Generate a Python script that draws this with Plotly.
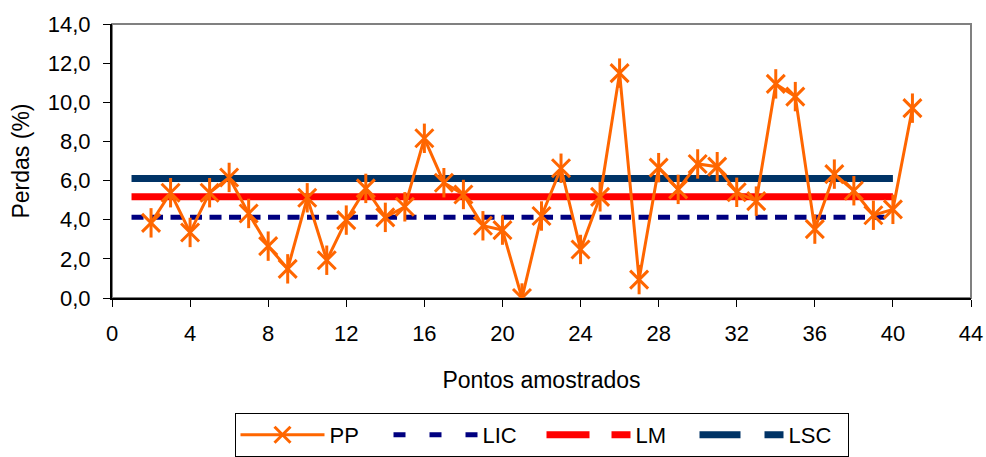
import plotly.graph_objects as go

# Sampled points and measured losses (%)
pontos = list(range(2, 42))
perdas = [3.84, 5.38, 3.35, 5.38, 6.16, 4.32, 2.65, 1.49, 5.12, 1.93,
          3.98, 5.60, 4.12, 4.66, 8.16, 5.89, 5.29, 3.69, 3.47, 0.00,
          4.19, 6.63, 2.48, 5.17, 11.49, 0.94, 6.66, 5.55, 6.85, 6.71,
          5.40, 4.95, 10.94, 10.29, 3.52, 6.33, 5.48, 4.23, 4.53, 9.70]

# Control limits, drawn over points 1..40
limite_x = [1, 40]
lic = 4.13
lm = 5.17
lsc = 6.11

x_ticks = list(range(0, 45, 4))
y_ticks = [0, 2, 4, 6, 8, 10, 12, 14]

FONT = "Liberation Sans, Arial, sans-serif"
ORANGE = "#FF6600"
NAVY = "#000080"
RED = "#FF0000"
DARKBLUE = "#003366"

fig = go.Figure()

# control limit lines (legend entries are added separately below)
fig.add_trace(go.Scatter(
    x=limite_x, y=[lic, lic], mode="lines", showlegend=False,
    line=dict(color=NAVY, width=5, dash="12px,7.5px"),
))
fig.add_trace(go.Scatter(
    x=limite_x, y=[lm, lm], mode="lines", showlegend=False,
    line=dict(color=RED, width=7),
))
fig.add_trace(go.Scatter(
    x=limite_x, y=[lsc, lsc], mode="lines", showlegend=False,
    line=dict(color=DARKBLUE, width=7),
))

# measured series with star markers (x stroke + vertical stroke)
fig.add_trace(go.Scatter(
    x=pontos, y=perdas, name="PP", mode="lines+markers", legendrank=1,
    line=dict(color=ORANGE, width=3),
    marker=dict(symbol="x-thin-open", size=18, color=ORANGE,
                line=dict(color=ORANGE, width=3)),
))
fig.add_trace(go.Scatter(
    x=pontos, y=perdas, mode="markers", showlegend=False, hoverinfo="skip",
    marker=dict(symbol="line-ns-open", size=21, color=ORANGE,
                line=dict(color=ORANGE, width=3)),
))

# legend keys for the limit lines
for nome, cor, larg, traco, rank in [("LIC", NAVY, 5, "12px,24px", 2),
                                     ("LM", RED, 7, "43px,22px", 3),
                                     ("LSC", DARKBLUE, 7, "41px,24px", 4)]:
    fig.add_trace(go.Scatter(
        x=[None], y=[None], name=nome, mode="lines", legendrank=rank,
        line=dict(color=cor, width=larg, dash=traco),
    ))

fig.update_layout(
    width=986, height=457,
    margin=dict(l=112, r=15, t=24, b=159, autoexpand=False),
    paper_bgcolor="white", plot_bgcolor="white",
    separators=",.",
    font=dict(family=FONT, size=22, color="black"),
    showlegend=True,
    legend=dict(
        orientation="h", x=0.5, xanchor="center",
        yref="container", y=-0.03, yanchor="bottom",
        bordercolor="black", borderwidth=1, bgcolor="white",
        font=dict(family=FONT, size=22, color="black"),
        itemwidth=84, entrywidth=54, traceorder="normal",
    ),
    shapes=[dict(type="rect", xref="paper", yref="paper", x0=0, x1=1, y0=0, y1=1,
                 line=dict(color="#808080", width=2), layer="below")],
)

fig.update_xaxes(
    range=[0, 44], tickvals=x_ticks, ticks="outside", ticklen=7, tickwidth=1,
    tickcolor="black", showline=True, linecolor="black", linewidth=2,
    showgrid=False, zeroline=False, ticklabelstandoff=8,
    title=dict(text="Pontos amostrados", font=dict(size=23), standoff=26),
)
fig.update_yaxes(
    range=[0, 14], tickvals=y_ticks, tickformat=".1f", ticks="outside",
    ticklen=7, tickwidth=1, tickcolor="black", showline=True, linecolor="black",
    linewidth=2, showgrid=False, zeroline=False, ticklabelstandoff=8,
    title=dict(text="Perdas (%)", font=dict(size=23), standoff=12),
)

fig.write_html("out.html")
